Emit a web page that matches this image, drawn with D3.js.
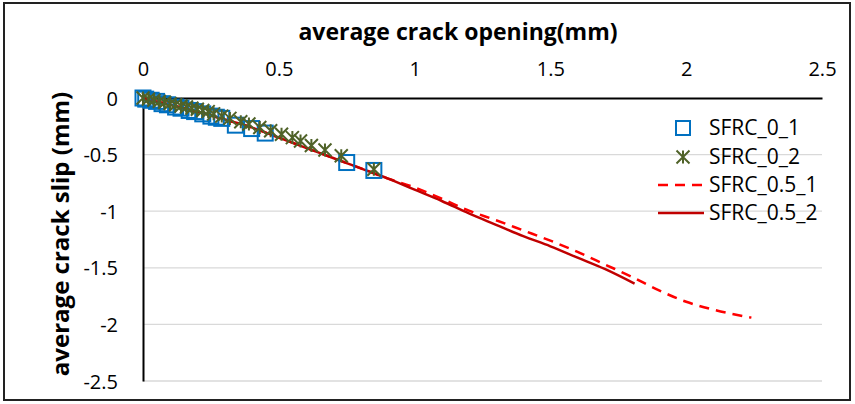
<!DOCTYPE html>
<html><head><meta charset="utf-8">
<script src="https://cdn.jsdelivr.net/npm/d3@7"></script>
<style>
body{margin:0;background:#fff;}
svg{display:block;font-family:"Open Sans","Liberation Sans",sans-serif;}
</style></head>
<body><svg id="c" width="855" height="404"></svg>
<script>
// ---- data ----
const xTicks = [0, 0.5, 1, 1.5, 2, 2.5];
const yTicks = [0, -0.5, -1, -1.5, -2, -2.5];
const seriesNames = ["SFRC_0_1", "SFRC_0_2", "SFRC_0.5_1", "SFRC_0.5_2"];

const s01x = [0, 0.01, 0.03, 0.05, 0.07, 0.09, 0.12, 0.14, 0.17, 0.19, 0.22, 0.25, 0.27, 0.29, 0.34, 0.40, 0.45, 0.75, 0.85];
const s01y = [0, -0.01, -0.02, -0.03, -0.05, -0.06, -0.08, -0.09, -0.11, -0.12, -0.14, -0.16, -0.17, -0.18, -0.24, -0.27, -0.31, -0.57, -0.64];

const s02x = [0, 0.02, 0.04, 0.06, 0.08, 0.10, 0.12, 0.14, 0.16, 0.18, 0.20, 0.22, 0.24, 0.26, 0.29, 0.32, 0.36, 0.39, 0.43, 0.47, 0.51, 0.55, 0.58, 0.62, 0.67, 0.73, 0.85];
const s02y = [0, -0.01, -0.02, -0.03, -0.04, -0.05, -0.06, -0.07, -0.08, -0.09, -0.10, -0.11, -0.12, -0.14, -0.16, -0.18, -0.21, -0.23, -0.26, -0.29, -0.32, -0.35, -0.38, -0.42, -0.46, -0.51, -0.63];

const s51x = [0, 0.1, 0.2, 0.3, 0.4, 0.5, 0.6, 0.7, 0.8, 0.9, 1.0, 1.1, 1.2, 1.3, 1.4, 1.5, 1.6, 1.7, 1.8, 1.9, 2.0, 2.1, 2.24];
const s51y = [0, -0.06, -0.12, -0.19, -0.26, -0.35, -0.44, -0.53, -0.62, -0.71, -0.79, -0.89, -0.995, -1.08, -1.17, -1.26, -1.36, -1.47, -1.58, -1.70, -1.80, -1.87, -1.94];

const s52x = [0, 0.1, 0.2, 0.3, 0.4, 0.5, 0.6, 0.7, 0.8, 0.9, 1.0, 1.1, 1.2, 1.3, 1.4, 1.5, 1.6, 1.7, 1.81];
const s52y = [0, -0.06, -0.12, -0.19, -0.26, -0.35, -0.44, -0.53, -0.62, -0.71, -0.81, -0.91, -1.02, -1.12, -1.22, -1.31, -1.41, -1.51, -1.64];

// ---- chart ----
const svg = d3.select("#c");
const x = d3.scaleLinear().domain([0, 2.5]).range([143, 822]);
const y = d3.scaleLinear().domain([-2.5, 0]).range([381, 98]);

const blue = "#0070c0", green = "#4f6228", red = "#ff0000", dred = "#c00000";

// outer border
svg.append("rect").attr("x", 4).attr("y", 3).attr("width", 846).attr("height", 397)
  .attr("fill", "none").attr("stroke", "#222").attr("stroke-width", 2);

// gridlines
svg.append("g").selectAll("line").data(yTicks.filter(d => d !== 0)).join("line")
  .attr("x1", x(0)).attr("x2", x(2.5)).attr("y1", d => y(d)).attr("y2", d => y(d))
  .attr("stroke", "#d9d9d9").attr("stroke-width", 1.3);

// axes
const fmt = d => String(d);
const gx = svg.append("g").attr("transform", `translate(0,${y(0)})`)
  .call(d3.axisTop(x).tickValues(xTicks).tickSize(0).tickPadding(22).tickFormat(fmt));
const gy = svg.append("g").attr("transform", `translate(${x(0)},0)`)
  .call(d3.axisLeft(y).tickValues(yTicks).tickSize(0).tickPadding(25).tickFormat(fmt));
[gx, gy].forEach(g => {
  g.select(".domain").attr("stroke", "#000").attr("stroke-width", 2);
  g.selectAll("text").attr("font-size", 20).attr("fill", "#000").attr("font-family", "'Open Sans',sans-serif");
});
gy.selectAll("text").attr("dy", "0.35em");

// titles
svg.append("text").attr("x", 458).attr("y", 40).attr("text-anchor", "middle")
  .attr("font-size", 23).attr("font-weight", "bold").text("average crack opening(mm)");
svg.append("text").attr("transform", "translate(69,234) rotate(-90)").attr("text-anchor", "middle")
  .attr("font-size", 24).attr("font-weight", "bold").text("average crack slip (mm)");

// lines
const line = d3.line().x(d => x(d[0])).y(d => y(d[1])).curve(d3.curveMonotoneX);
svg.append("path").datum(d3.zip(s51x, s51y)).attr("d", line)
  .attr("fill", "none").attr("stroke", red).attr("stroke-width", 2.5).attr("stroke-dasharray", "10,7");
svg.append("path").datum(d3.zip(s52x, s52y)).attr("d", line)
  .attr("fill", "none").attr("stroke", dred).attr("stroke-width", 2.5);

// markers
function square(g, cx, cy, s) {
  g.append("rect").attr("x", cx - s / 2).attr("y", cy - s / 2).attr("width", s).attr("height", s)
    .attr("fill", "none").attr("stroke", blue).attr("stroke-width", 2);
}
function star(g, cx, cy, s) {
  const h = s / 2;
  const p = `M${cx - h},${cy - h}L${cx + h},${cy + h}M${cx - h},${cy + h}L${cx + h},${cy - h}M${cx},${cy - h}L${cx},${cy + h}`;
  g.append("path").attr("d", p).attr("stroke", green).attr("stroke-width", 2).attr("fill", "none");
}
const gm = svg.append("g");
d3.zip(s01x, s01y).forEach(d => square(gm, x(d[0]), y(d[1]), 15));
d3.zip(s02x, s02y).forEach(d => star(gm, x(d[0]), y(d[1]), 13));

// legend
const lg = svg.append("g");
const rows = [128, 157, 185, 213];
square(lg, 683, rows[0], 14);
star(lg, 683, rows[1], 13);
lg.append("line").attr("x1", 658).attr("x2", 704).attr("y1", rows[2]).attr("y2", rows[2])
  .attr("stroke", red).attr("stroke-width", 2.5).attr("stroke-dasharray", "10,7");
lg.append("line").attr("x1", 658).attr("x2", 704).attr("y1", rows[3]).attr("y2", rows[3])
  .attr("stroke", dred).attr("stroke-width", 2.5);
lg.selectAll("text.lt").data(seriesNames).join("text").attr("class", "lt")
  .attr("x", 709).attr("y", (d, i) => rows[i]).attr("dy", "0.35em")
  .attr("font-size", 21).text(d => d);
</script></body></html>
